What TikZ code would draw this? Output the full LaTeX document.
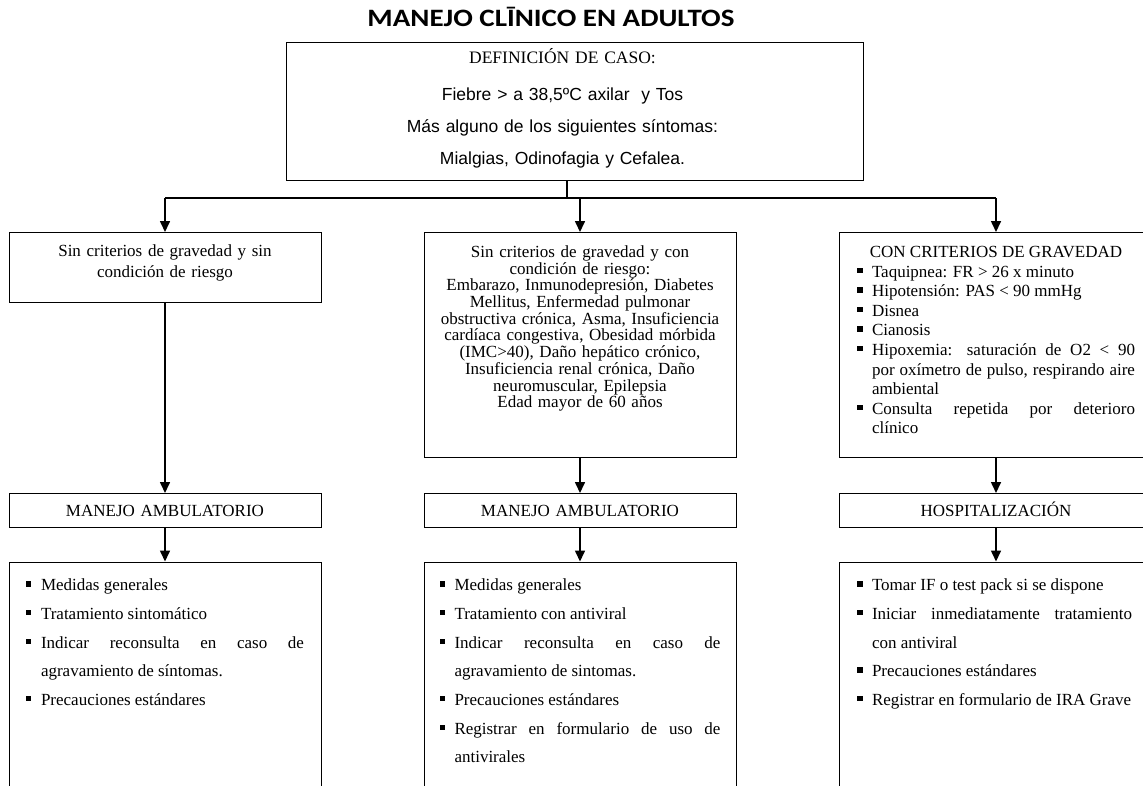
\documentclass[tikz,border=0pt]{standalone}
\usepackage{fontspec}
\usepackage{graphicx}
\setmainfont{Liberation Serif}
\newfontfamily\arialfont{Liberation Sans}
\newfontfamily\titlefont{Carlito}
\usetikzlibrary{arrows.meta,positioning}

\hyphenpenalty=10000
\exhyphenpenalty=10000

% vineta cuadrada y struts para fijar la primera linea base y el borde de abajo
\newcommand{\itm}[1]{\par\noindent\hangindent=15pt\hangafter=1\makebox[15pt][l]{\rule[4pt]{5.5pt}{5.5pt}}#1}
\newcommand{\arriba}[1]{\rule{0pt}{#1}}
\newcommand{\abajo}[1]{\rule[-#1]{0pt}{#1}}
\newcommand{\izq}{\hspace*{-24pt}}

\begin{document}
\begin{tikzpicture}[x=1pt,y=-1pt,
  caja/.style={rectangle,draw,line width=0.9pt,inner ysep=0pt,anchor=north,
    font=\fontsize{17}{20.7}\selectfont},
  centro/.style={caja,align=center},
  lista/.style={caja,align=justify},
  conn/.style={line width=1.6pt},
  flecha/.style={-{Triangle[length=11pt,width=10pt]}},
]
\path[use as bounding box,clip] (0,0) rectangle (1143,785);

\node[font=\titlefont\bfseries\fontsize{25}{25}\selectfont,anchor=base] (titulo) at (551,26)
  {\scalebox{1.16}[1]{MANEJO CLĪNICO EN ADULTOS}};

\node[centro,text width=543pt,inner xsep=17pt,font=\arialfont\fontsize{17.5}{32}\selectfont] (caso) at (574.5,42)
  {\izq{\rmfamily\arriba{21pt}DEFINICIÓN DE CASO:}\\[5pt]
   \izq Fiebre > a 38,5ºC axilar~ y Tos\\
   \izq Más alguno de los siguientes síntomas:\\
   \izq Mialgias, Odinofagia y Cefalea.\abajo{16pt}};

% fila de criterios
\node[centro,text width=278pt,inner xsep=17pt] (crit1) at (165,232)
  {\arriba{24pt}Sin criterios de gravedad y sin\\ condición de riesgo\abajo{25.3pt}};
\node[centro,text width=292pt,inner xsep=10pt,font=\fontsize{17}{16.7}\selectfont] (crit2) at (580,232)
  {\arriba{25pt}Sin criterios de gravedad y con\\
   condición de riesgo:\\
   Embarazo, Inmunodepresión, Diabetes\\
   Mellitus, Enfermedad pulmonar\\
   obstructiva crónica, Asma, Insuficiencia\\
   cardíaca congestiva, Obesidad mórbida\\
   (IMC>40), Daño hepático crónico,\\
   Insuficiencia renal crónica, Daño\\
   neuromuscular, Epilepsia\\
   Edad mayor de 60 años\abajo{49.7pt}};
\node[lista,text width=278pt,inner xsep=18pt,font=\fontsize{17}{19.6}\selectfont] (crit3) at (996,232)
  {\noindent\makebox[\hsize]{\arriba{25pt}CON CRITERIOS DE GRAVEDAD}
   \itm{Taquipnea: FR > 26 x minuto}
   \itm{Hipotensión: PAS < 90 mmHg}
   \itm{Disnea}
   \itm{Cianosis}
   \itm{Hipoxemia: saturación de O2 < 90\linebreak por oxímetro de pulso, respirando aire\linebreak ambiental}
   \itm{Consulta repetida por deterioro\linebreak clínico\abajo{23.6pt}}\par};

% fila de manejo
\node[centro,text width=278pt,inner xsep=17pt] (amb1) at (165,493) {\arriba{23pt}MANEJO AMBULATORIO\abajo{11pt}};
\node[centro,text width=278pt,inner xsep=17pt] (amb2) at (580,493) {\arriba{23pt}MANEJO AMBULATORIO\abajo{11pt}};
\node[centro,text width=280pt,inner xsep=17pt] (hosp) at (996,493) {\arriba{23pt}HOSPITALIZACIÓN\abajo{11pt}};

% medidas (cajas abiertas abajo)
\node[lista,text width=278pt,inner xsep=17pt,font=\fontsize{17}{28.7}\selectfont] (med1) at (165,561.5)
  {\itm{\arriba{25.5pt}Medidas generales}
   \itm{Tratamiento sintomático}
   \itm{Indicar reconsulta en caso de\linebreak agravamiento de síntomas.}
   \itm{Precauciones estándares\abajo{250pt}}\par};
\node[lista,text width=281pt,inner xsep=15.5pt,font=\fontsize{17}{28.7}\selectfont] (med2) at (580,561.5)
  {\itm{\arriba{25.5pt}Medidas generales}
   \itm{Tratamiento con antiviral}
   \itm{Indicar reconsulta en caso de\linebreak agravamiento de sintomas.}
   \itm{Precauciones estándares}
   \itm{Registrar en formulario de uso de\linebreak antivirales\abajo{250pt}}\par};
\node[lista,text width=278pt,inner xsep=18pt,font=\fontsize{17}{28.7}\selectfont] (med3) at (996,561.5)
  {\rightskip=3pt
   \itm{\arriba{25.5pt}Tomar IF o test pack si se dispone}
   \itm{Iniciar inmediatamente tratamiento\linebreak con antiviral}
   \itm{Precauciones estándares}
   \itm{Registrar en formulario de IRA Grave\abajo{250pt}}\par};

% conectores
\coordinate (rama) at (567,198);
\draw[conn] (caso.south -| rama) -- (rama);
\draw[conn] (crit1.north |- rama) -- (crit3.north |- rama);
\foreach \n in {crit1,crit2,crit3}
  \draw[conn,flecha] (\n.north |- rama) -- (\n.north);
\draw[conn,flecha] (crit1.south) -- (amb1.north);
\draw[conn,flecha] (crit2.south) -- (amb2.north);
\draw[conn,flecha] (crit3.south) -- (hosp.north);
\draw[conn,flecha] (amb1.south) -- (med1.north);
\draw[conn,flecha] (amb2.south) -- (med2.north);
\draw[conn,flecha] (hosp.south) -- (med3.north);
\end{tikzpicture}
\end{document}
